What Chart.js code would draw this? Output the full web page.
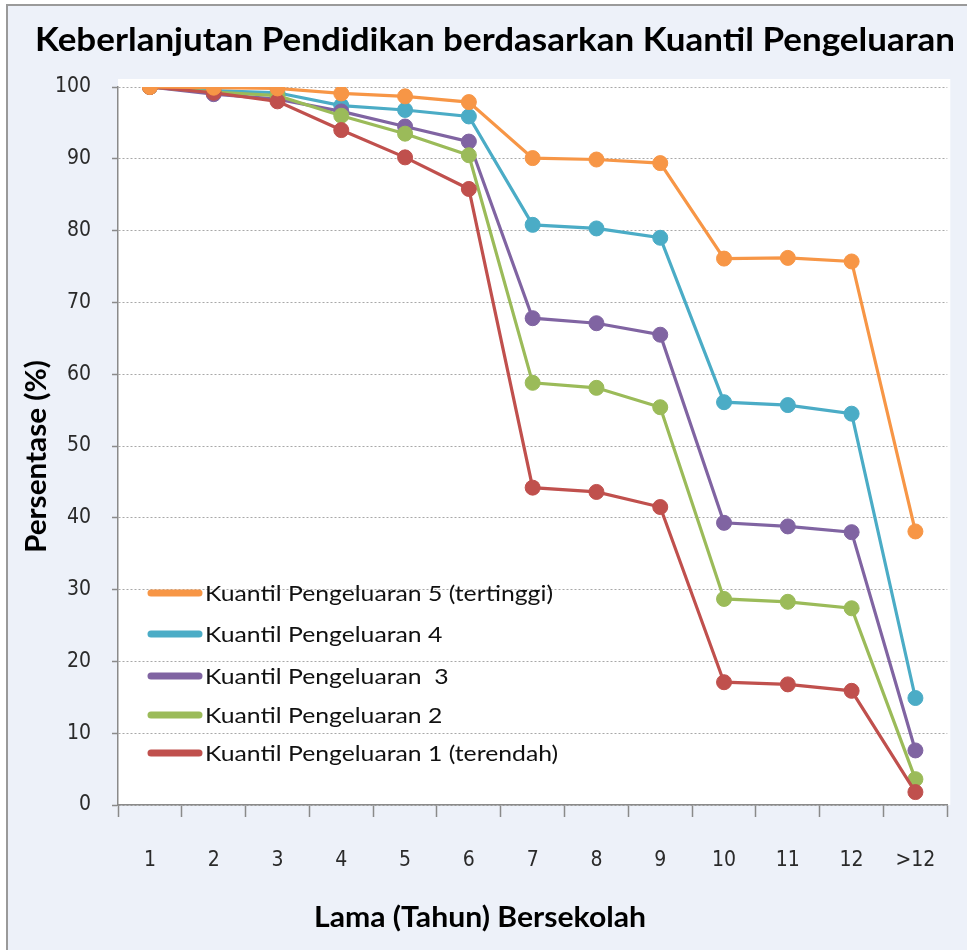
<!DOCTYPE html>
<html>
<head>
<meta charset="utf-8">
<script src="https://cdn.jsdelivr.net/npm/chart.js@4/dist/chart.umd.min.js"></script>
<style>
  html, body { margin: 0; padding: 0; background: #ffffff; }
  #wrap { width: 967px; height: 950px; position: relative; }
  canvas { display: block; }
</style>
</head>
<body>
<div id="wrap"><canvas id="c" width="967" height="950"></canvas></div>
<script>
// ---- data ----
const categories = ['1', '2', '3', '4', '5', '6', '7', '8', '9', '10', '11', '12', '>12'];
const q5 = [100, 99.9, 99.8, 99.1, 98.7, 97.9, 90.1, 89.9, 89.4, 76.1, 76.2, 75.7, 38.1];
const q4 = [100, 99.5, 99.2, 97.4, 96.8, 95.9, 80.8, 80.3, 79.0, 56.1, 55.7, 54.5, 14.9];
const q3 = [100, 99.0, 98.3, 96.6, 94.5, 92.4, 67.8, 67.1, 65.5, 39.3, 38.8, 38.0, 7.6];
const q2 = [100, 99.3, 98.8, 96.0, 93.5, 90.5, 58.8, 58.1, 55.4, 28.7, 28.3, 27.4, 3.6];
const q1 = [100, 99.2, 98.0, 94.0, 90.2, 85.8, 44.2, 43.6, 41.5, 17.1, 16.8, 15.9, 1.8];
const seriesNames = [
  'Kuantil Pengeluaran 5 (tertinggi)',
  'Kuantil Pengeluaran 4',
  'Kuantil Pengeluaran  3',
  'Kuantil Pengeluaran 2',
  'Kuantil Pengeluaran 1 (terendah)'
];
const yTicks = [0, 10, 20, 30, 40, 50, 60, 70, 80, 90, 100];
const chartTitle = 'Keberlanjutan Pendidikan berdasarkan Kuantil Pengeluaran';
const xTitle = 'Lama (Tahun) Bersekolah';
const yTitle = 'Persentase (%)';

// ---- styles ----
const colors = ['#F79646', '#4BACC6', '#8064A2', '#9BBB59', '#C0504D'];
const seriesData = [q5, q4, q3, q2, q1];
const tickFont = '"DejaVu Sans Condensed", "Liberation Sans", sans-serif';

function mkDataset(i) {
  return {
    label: seriesNames[i],
    data: seriesData[i],
    borderColor: colors[i],
    backgroundColor: colors[i],
    pointBackgroundColor: colors[i],
    pointBorderColor: colors[i],
    borderWidth: 3.2,
    pointRadius: 7.5,
    pointHoverRadius: 7.5,
    pointBorderWidth: 1,
    tension: 0,
    fill: false
  };
}
// draw order: index 0 on top
const datasets = [0, 4, 3, 2, 1].map(mkDataset);

function drawScaledText(ctx, text, x, y, font, targetW, align) {
  ctx.save();
  ctx.font = font;
  const w = ctx.measureText(text).width;
  const s = targetW / w;
  ctx.translate(x, y);
  ctx.scale(s, 1);
  ctx.textAlign = align || 'left';
  ctx.fillText(text, 0, 0);
  ctx.restore();
}

const decor = {
  id: 'decor',
  beforeDraw(chart) {
    const ctx = chart.ctx;
    const ca = chart.chartArea;
    ctx.save();
    ctx.fillStyle = '#ffffff';
    ctx.fillRect(0, 0, chart.width, chart.height);
    ctx.fillStyle = '#EDF1F9';
    ctx.fillRect(7, 5, chart.width - 7, chart.height - 5);
    ctx.strokeStyle = '#9a9a9a';
    ctx.lineWidth = 2;
    ctx.beginPath();
    ctx.moveTo(7, chart.height + 2);
    ctx.lineTo(7, 5);
    ctx.lineTo(chart.width + 2, 5);
    ctx.stroke();
    ctx.fillStyle = '#ffffff';
    ctx.fillRect(ca.left, ca.top - 8, ca.right - ca.left + 3, ca.bottom - ca.top + 8);
    ctx.restore();
  },
  afterDraw(chart) {
    const ctx = chart.ctx;
    ctx.save();
    ctx.fillStyle = '#000000';
    ctx.textBaseline = 'alphabetic';
    // main title
    drawScaledText(ctx, chartTitle, 35, 51, 'bold 32px Lato', 920, 'left');
    // x title
    drawScaledText(ctx, xTitle, 314, 927, 'bold 28px Lato', 332, 'left');
    // y title rotated
    ctx.save();
    ctx.translate(46, 553);
    ctx.rotate(-Math.PI / 2);
    drawScaledText(ctx, yTitle, 0, 0, 'bold 28px Lato', 193, 'left');
    ctx.restore();
    // legend (inside plot)
    const rowsY = [593, 634, 676, 715, 753];
    ctx.font = '22px Lato';
    const w0 = ctx.measureText(seriesNames[0]).width;
    const sx = 348 / w0;
    for (let i = 0; i < seriesNames.length; i++) {
      const y = rowsY[i];
      ctx.strokeStyle = colors[i];
      ctx.lineWidth = 7;
      ctx.lineCap = 'round';
      ctx.beginPath();
      ctx.moveTo(151, y);
      ctx.lineTo(199, y);
      ctx.stroke();
      ctx.save();
      ctx.fillStyle = '#111111';
      ctx.textBaseline = 'middle';
      ctx.translate(205, y + 1);
      ctx.scale(sx, 1);
      ctx.fillText(seriesNames[i], 0, 0);
      ctx.restore();
    }
    ctx.restore();
  }
};

new Chart(document.getElementById('c'), {
  type: 'line',
  data: { labels: categories, datasets: datasets },
  options: {
    responsive: false,
    animation: false,
    devicePixelRatio: 1,
    layout: { padding: { left: 0, top: 87, right: 17, bottom: 0 } },
    plugins: {
      legend: { display: false },
      title: { display: false },
      tooltip: { enabled: false }
    },
    scales: {
      x: {
        type: 'category',
        offset: true,
        afterFit(scale) { scale.height = 145; },
        grid: {
          display: true,
          offset: true,
          drawOnChartArea: false,
          drawTicks: true,
          tickLength: 12,
          tickColor: '#8a8a8a',
          tickWidth: 1.5
        },
        border: { display: true, color: '#8a8a8a', width: 1.5 },
        ticks: {
          padding: 31,
          color: '#2a2a2a',
          font: { family: tickFont, size: 21 },
          maxRotation: 0,
          autoSkip: false
        }
      },
      y: {
        min: 0,
        max: 100,
        afterFit(scale) { scale.width = 118; },
        afterBuildTicks(scale) { scale.ticks = yTicks.map(v => ({ value: v })); },
        grid: {
          display: true,
          color: '#a8a8a8',
          lineWidth: 1,
          drawTicks: true,
          tickLength: 6,
          tickColor: '#8a8a8a',
          tickWidth: 1.5,
          tickBorderDash: []
        },
        border: { display: true, color: '#8a8a8a', width: 1.5, dash: [2, 2] },
        ticks: {
          padding: 21,
          color: '#2a2a2a',
          font: { family: tickFont, size: 21 }
        }
      }
    }
  },
  plugins: [decor]
});
</script>
</body>
</html>
